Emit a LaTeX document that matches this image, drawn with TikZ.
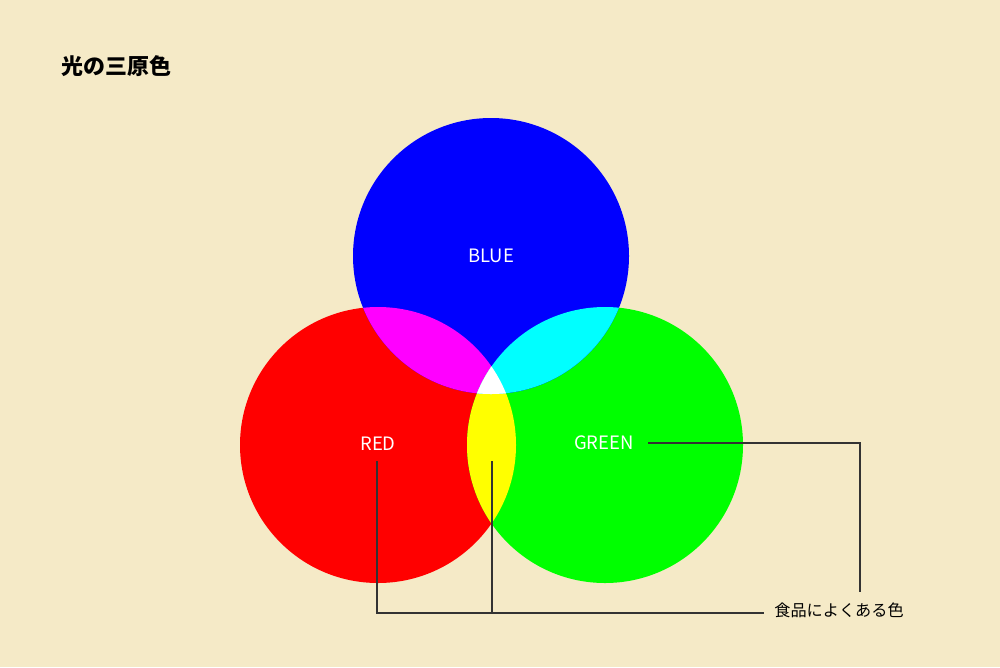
\documentclass[tikz,border=0pt]{standalone}
\usepackage{fontspec}
\newfontfamily\jpfont{Noto Sans CJK JP}
\setmainfont{Noto Sans CJK JP}
\definecolor{paper}{HTML}{F5EAC7}
\definecolor{leadgray}{HTML}{333333}
\definecolor{lightred}{RGB}{255,0,0}
\definecolor{lightgreen}{RGB}{0,255,0}
\definecolor{lightblue}{RGB}{0,0,255}
\definecolor{lightmagenta}{RGB}{255,0,255}
\definecolor{lightcyan}{RGB}{0,255,255}
\definecolor{lightyellow}{RGB}{255,255,0}

\tikzstyle{colorlabel} = [text=white, font=\fontsize{10.5}{12}\selectfont]
\tikzstyle{leader} = [draw=leadgray, line width=0.7pt]

\begin{document}
\begin{tikzpicture}[x=0.02cm, y=-0.02cm]
        % background
        \fill[paper] (0,0) rectangle (1000,667);
        \useasboundingbox (0,0) rectangle (1000,667);

        \node (title) [anchor=west, font=\jpfont\bfseries\fontsize{12.5}{14}\selectfont] at (55,66) {光の三原色};

        % the three lights
        \def\bluepath{(491,256) circle (138)}
        \def\redpath{(378,445) circle (138)}
        \def\greenpath{(605,445) circle (138)}
        \fill[lightred] \redpath;
        \fill[lightgreen] \greenpath;
        \fill[lightblue] \bluepath;
        \begin{scope}
            \clip \redpath;
            \fill[lightmagenta] \bluepath;
            \fill[lightyellow] \greenpath;
            \clip \greenpath;
            \fill[white] \bluepath;
        \end{scope}
        \begin{scope}
            \clip \greenpath;
            \fill[lightcyan] \bluepath;
            \clip \redpath;
            \fill[white] \bluepath;
        \end{scope}

        \node (bluelabel) [colorlabel] at (491,256) {BLUE};
        \node (redlabel) [colorlabel] at (378,444) {RED};
        \node (greenlabel) [colorlabel] at (604,443) {GREEN};
        \node (food) [anchor=west, text=black, font=\jpfont\fontsize{9.2}{11}\selectfont, inner sep=0pt] at (774,610) {食品によくある色};

        \coordinate (redtop) at (377,461);
        \coordinate (yellowtop) at (492,461);
        \coordinate (greenstart) at (648,443);
        \coordinate (greenend) at (860,592);
        \coordinate (joint) at (764,613);

        \draw [leader] (redtop) |- (joint);
        \draw [leader] (yellowtop) -- (yellowtop |- joint);
        \draw [leader] (greenstart) -| (greenend);
    \end{tikzpicture}
\end{document}
